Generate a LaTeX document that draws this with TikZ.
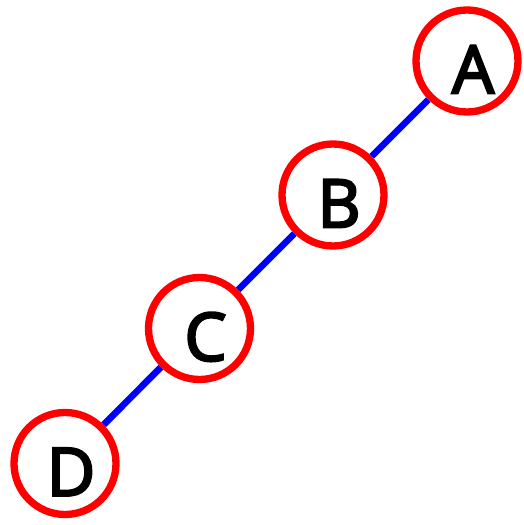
\documentclass[tikz,border=0pt]{standalone}
\usepackage{fontspec}
\setmainfont{Open Sans}
\newfontfamily\lblfont{Open Sans}[FakeBold=3.5]
\usepackage{tikz}

\tikzset{
 vtx/.style={draw=red,line width=5.5pt,circle,minimum size=76.5pt,inner sep=0pt},
 lbl/.style={font=\fontsize{50}{50}\lblfont,xshift=4.5pt,yshift=-6.3pt},
 edge/.style={draw=blue,line width=5pt}
}

\begin{document}
\begin{tikzpicture}[x=0.75pt,y=0.75pt]
 \useasboundingbox (0,0) rectangle (524,525);
 \node[vtx] (a) at (467,464) {};
 \node[vtx] (b) at (333,330) {};
 \node[vtx] (c) at (199.5,196.5) {};
 \node[vtx] (d) at (65,61.5) {};
 \node[lbl] (la) at (a) {A};
 \node[lbl] (lb) at (b) {B};
 \node[lbl] (lc) at (c) {C};
 \node[lbl] (ld) at (d) {D};
 \draw[edge] (a) -- (b);
 \draw[edge] (b) -- (c);
 \draw[edge] (c) -- (d);
\end{tikzpicture}
\end{document}
